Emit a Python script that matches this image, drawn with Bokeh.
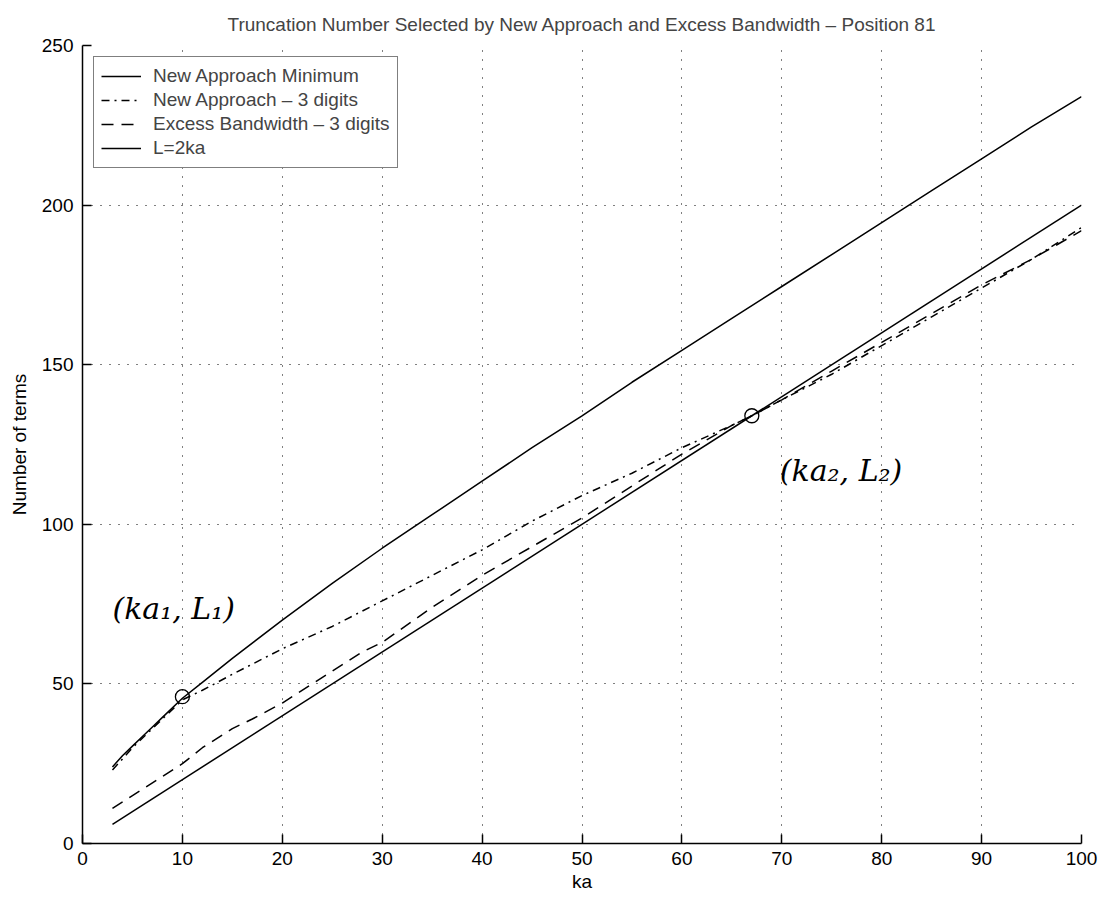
from bokeh.plotting import figure
from bokeh.models import Range1d, Label, Legend, LegendItem, FixedTicker
from bokeh.embed import file_html
from bokeh.resources import INLINE

# ---- data ----
ka_min = [3, 4, 5, 6, 7, 8, 10, 12, 15, 20, 25, 30, 35, 40, 45, 50, 55, 60, 65, 70, 75, 80, 85, 90, 95, 100]
L_min = [24, 27.5, 30.5, 33.5, 36.5, 39.5, 45.5, 50.5, 58, 70, 81.5, 92.5, 103, 113.5, 124, 134, 144.5, 154.5,
         164.5, 174.5, 184.5, 194.5, 204.5, 214.5, 224.5, 234]

ka_new3 = [3, 5, 7, 10, 12, 15, 20, 25, 30, 35, 40, 45, 50, 55, 60, 65, 67, 70, 75, 80, 85, 90, 95, 100]
L_new3 = [23, 30, 36, 45, 48, 53, 61, 68, 76, 84, 92, 101, 109, 116, 124, 131, 134, 139, 147, 156, 165, 174, 183, 193]

ka_exc3 = [3, 5, 7, 10, 12, 15, 17, 20, 25, 28, 30, 35, 40, 45, 50, 55, 60, 65, 67, 70, 75, 80, 85, 90, 95, 100]
L_exc3 = [11, 15, 19, 25, 30, 36, 39, 44, 54, 60, 63, 74, 84, 93, 102, 112, 122, 131, 134, 139, 148, 157, 166, 175, 183, 192]

ka_2ka = [3, 100]
L_2ka = [6, 200]

ka_pts = [10, 67]
L_pts = [46, 134]

x_ticks = [0, 10, 20, 30, 40, 50, 60, 70, 80, 90, 100]
y_ticks = [0, 50, 100, 150, 200, 250]

TITLE = "Truncation Number Selected by New Approach and Excess Bandwidth \u2013 Position 81"
FONT = "Liberation Sans"

p = figure(width=1104, height=901, output_backend="svg", toolbar_location=None,
           x_range=Range1d(0, 100), y_range=Range1d(0, 250),
           min_border_left=82, min_border_right=23, min_border_top=45, min_border_bottom=58)

p.title.text = TITLE
p.title.align = "center"
p.title.text_font = FONT
p.title.text_font_style = "normal"
p.title.text_font_size = "19px"
p.title.standoff = 22

p.outline_line_color = None
p.background_fill_color = "white"
p.border_fill_color = "white"

for ax in (p.xaxis[0], p.yaxis[0]):
    ax.axis_line_color = "black"
    ax.axis_line_width = 1.5
    ax.major_tick_in = 9
    ax.major_tick_out = 0
    ax.major_tick_line_color = "black"
    ax.major_tick_line_width = 1.5
    ax.minor_tick_line_color = None
    ax.major_label_text_font = FONT
    ax.major_label_text_font_size = "19px"
    ax.major_label_text_color = "black"
    ax.axis_label_text_font = FONT
    ax.axis_label_text_font_size = "19px"
    ax.axis_label_text_font_style = "normal"
    ax.axis_label_text_color = "black"

p.xaxis.ticker = FixedTicker(ticks=x_ticks)
p.yaxis.ticker = FixedTicker(ticks=y_ticks)
p.xaxis.axis_label = "ka"
p.yaxis.axis_label = "Number of terms"
p.xaxis.major_label_standoff = 8
p.yaxis.major_label_standoff = 9
p.xaxis.axis_label_standoff = 3
p.yaxis.axis_label_standoff = 9

p.grid.grid_line_color = "black"
p.grid.grid_line_dash = "1 8"
p.grid.grid_line_width = 1

r1 = p.line(ka_min, L_min, line_color="black", line_width=1.5)
r2 = p.line(ka_new3, L_new3, line_color="black", line_width=1.5, line_dash="8 5 2 5")
r3 = p.line(ka_exc3, L_exc3, line_color="black", line_width=1.5, line_dash="12 8")
r4 = p.line(ka_2ka, L_2ka, line_color="black", line_width=1.5)

p.scatter(ka_pts, L_pts, marker="circle", size=14, fill_color=None,
          line_color="black", line_width=1.3)

legend = Legend(items=[
    LegendItem(label="New Approach Minimum", renderers=[r1]),
    LegendItem(label="New Approach \u2013 3 digits", renderers=[r2]),
    LegendItem(label="Excess Bandwidth \u2013 3 digits", renderers=[r3]),
    LegendItem(label="L=2ka", renderers=[r4]),
], location="top_left")
legend.margin = 11
legend.padding = 7
legend.spacing = 0
legend.label_height = 24
legend.glyph_height = 24
legend.glyph_width = 40
legend.label_standoff = 12
legend.label_text_font = FONT
legend.label_text_font_size = "19px"
legend.border_line_color = "black"
legend.border_line_width = 1.5
legend.background_fill_alpha = 1
p.add_layout(legend)

p.add_layout(Label(x=3.0, y=73.5, text="(ka\u2081, L\u2081)", text_font="DejaVu Serif",
                   text_font_style="italic", text_font_size="30px",
                   text_baseline="middle", text_align="left", text_color="black"))
p.add_layout(Label(x=69.8, y=117, text="(ka\u2082, L\u2082)", text_font="DejaVu Serif",
                   text_font_style="italic", text_font_size="30px",
                   text_baseline="middle", text_align="left", text_color="black"))

open("out.html", "w").write(file_html(p, INLINE))
